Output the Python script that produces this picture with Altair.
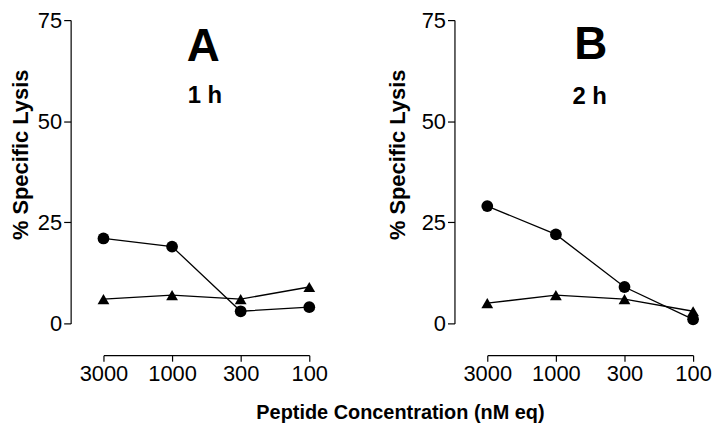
import altair as alt
import pandas as pd

conc = ["3000", "1000", "300", "100"]
a_circle = [21, 19, 3, 4]
a_triangle = [6, 7, 6, 9]
b_circle = [29, 22, 9, 1]
b_triangle = [5, 7, 6, 3]
y_ticks = [0, 25, 50, 75]

FONT = "Liberation Sans"


def panel(circ, tri, letter, sub, title_pad, big_xy, small_xy):
    df = pd.DataFrame({
        "conc": conc * 2,
        "lysis": circ + tri,
        "series": ["circle"] * 4 + ["triangle"] * 4,
    })
    base = alt.Chart(df).encode(
        x=alt.X("conc:O", sort=conc,
                scale=alt.Scale(type="point", padding=0, domain=conc),
                axis=alt.Axis(title=None, offset=32, labelAngle=0, tickSize=6,
                              labelPadding=2, labelFontSize=22)),
        y=alt.Y("lysis:Q", scale=alt.Scale(domain=[0, 75], nice=False),
                axis=alt.Axis(values=y_ticks, offset=33, title="% Specific Lysis",
                              titleFontSize=22, titleFontWeight="bold",
                              titlePadding=title_pad, titleY=135, tickSize=7,
                              labelPadding=2, labelFontSize=22)),
    )
    lines = base.mark_line(color="black", strokeWidth=1.3).encode(detail="series:N")
    pts = base.mark_point(filled=True, color="black", opacity=1, size=140).encode(
        shape=alt.Shape("series:N",
                        scale=alt.Scale(domain=["circle", "triangle"],
                                        range=["circle", "triangle-up"]),
                        legend=None))
    big = alt.Chart(pd.DataFrame({"t": [letter]})).mark_text(
        font=FONT, fontSize=46, fontWeight="bold", color="black", baseline="middle"
    ).encode(text="t:N", x=alt.value(big_xy[0]), y=alt.value(big_xy[1]))
    small = alt.Chart(pd.DataFrame({"t": [sub]})).mark_text(
        font=FONT, fontSize=24, fontWeight="bold", color="black", baseline="middle"
    ).encode(text="t:N", x=alt.value(small_xy[0]), y=alt.value(small_xy[1]))
    return alt.layer(lines, pts, big, small).properties(width=207, height=305)


pa = panel(a_circle, a_triangle, "A", "1 h", 4.5, (100.5, 27.5), (102, 76))
pb = panel(b_circle, b_triangle, "B", "2 h", 12, (104, 25), (103, 77))

chart = alt.hconcat(pa, pb, spacing=58).properties(
    padding={"left": 2, "top": 0, "right": 0, "bottom": 0},
    title=alt.TitleParams("Peptide Concentration (nM eq)", orient="bottom",
                          anchor="middle", dx=40, fontSize=20, font=FONT,
                          fontWeight="bold", offset=19, color="black"),
).configure_view(stroke=None).configure_axis(
    grid=False, domainColor="black", tickColor="black", labelColor="black",
    titleColor="black", labelFont=FONT, titleFont=FONT, domainWidth=1.2, tickWidth=1.2,
)

chart.save("out.html", embed_options={"renderer": "svg", "actions": False})
